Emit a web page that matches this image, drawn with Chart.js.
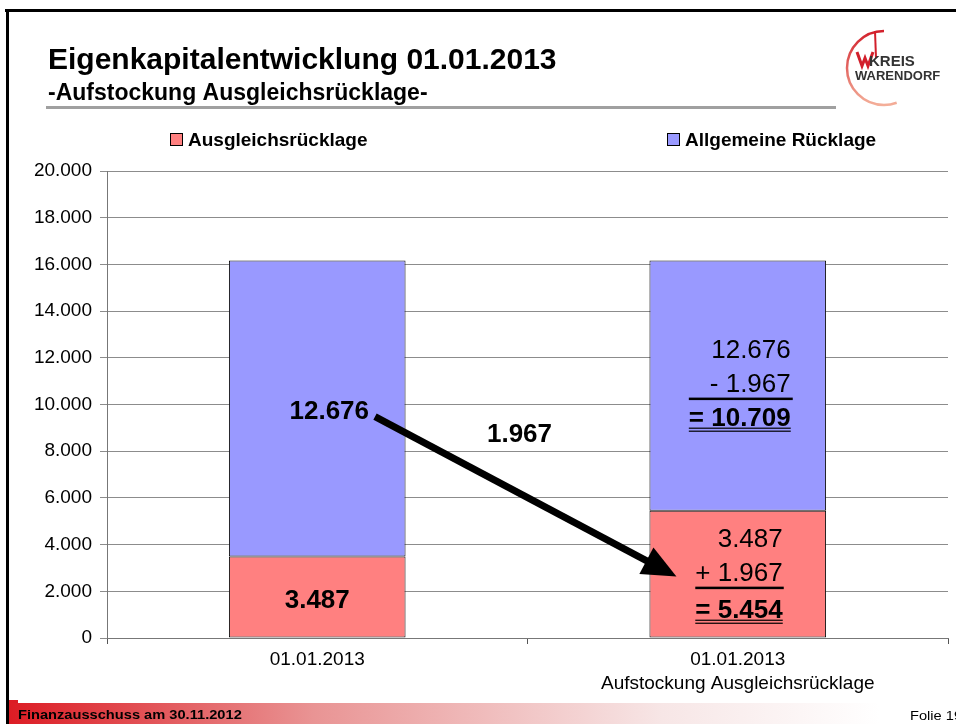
<!DOCTYPE html>
<html>
<head>
<meta charset="utf-8">
<script src="https://cdn.jsdelivr.net/npm/chart.js@4.4.1/dist/chart.umd.min.js"></script>
<style>
html, body { margin: 0; padding: 0; background: #fff; overflow: hidden; }
canvas { display: block; }
</style>
</head>
<body>
<canvas id="chart" width="956" height="724"></canvas>
<script>
var categories = [['01.01.2013'], ['01.01.2013', 'Aufstockung Ausgleichsrücklage']];
var seriesNames = ['Ausgleichsrücklage', 'Allgemeine Rücklage'];
var ausgleich = [3487, 5454];
var allgemein = [12676, 10709];
var umbuchung = 1967;
var yMax = 20000;
var yStep = 2000;

var FONT = "'Liberation Sans', Arial, sans-serif";
var RED = '#ff8080';
var BLUE = '#9999ff';

function fmt(v) {
    return String(v).replace(/\B(?=(\d{3})+(?!\d))/g, '.');
}

// text centred vertically on cy (cap height), alphabetic baseline
function label(ctx, text, x, cy, size, bold, align) {
    ctx.font = (bold ? 'bold ' : '') + size + 'px ' + FONT;
    ctx.textAlign = align || 'center';
    ctx.textBaseline = 'alphabetic';
    ctx.fillStyle = '#000';
    ctx.fillText(text, x, cy + size * 0.36);
    return ctx.measureText(text).width;
}

function stretched(ctx, text, x, y, font, sx, color) {
    ctx.save();
    ctx.font = font;
    ctx.fillStyle = color;
    ctx.textAlign = 'left';
    ctx.textBaseline = 'alphabetic';
    ctx.translate(x, y);
    ctx.scale(sx, 1);
    ctx.fillText(text, 0, 0);
    ctx.restore();
}

function hline(ctx, x1, x2, y, w) {
    ctx.fillStyle = '#000';
    ctx.fillRect(x1, y, x2 - x1, w);
}

var slide = {
    id: 'slide',
    afterDraw: function (chart) {
        var ctx = chart.ctx;
        ctx.save();

        // frame
        ctx.fillStyle = '#000';
        ctx.fillRect(5, 9, 951, 3);
        ctx.fillRect(6, 9, 3, 715);

        // header
        ctx.fillStyle = '#000';
        ctx.textAlign = 'left';
        ctx.textBaseline = 'alphabetic';
        ctx.font = 'bold 30px ' + FONT;
        ctx.fillText('Eigenkapitalentwicklung 01.01.2013', 48, 69);
        ctx.font = 'bold 23px ' + FONT;
        ctx.fillText('-Aufstockung Ausgleichsrücklage-', 48, 100);
        ctx.fillStyle = '#a0a0a0';
        ctx.fillRect(46, 106, 790, 3);

        // logo
        var g = ctx.createLinearGradient(0, 30, 0, 106);
        g.addColorStop(0, '#d21f2b');
        g.addColorStop(1, '#f4b09a');
        ctx.strokeStyle = g;
        ctx.lineWidth = 2.5;
        ctx.beginPath();
        ctx.arc(884, 68, 37, -Math.PI / 2, Math.PI / 2 - 0.35, true);
        ctx.stroke();
        ctx.strokeStyle = '#d21f2b';
        ctx.lineWidth = 2;
        ctx.beginPath();
        ctx.moveTo(875, 31);
        ctx.lineTo(876, 58);
        ctx.stroke();
        ctx.lineWidth = 3;
        ctx.beginPath();
        ctx.moveTo(857, 52);
        ctx.lineTo(862, 66);
        ctx.lineTo(865, 58);
        ctx.lineTo(868, 66);
        ctx.lineTo(873, 52);
        ctx.stroke();
        ctx.fillStyle = '#333';
        ctx.font = 'bold 15px ' + FONT;
        ctx.fillText('KREIS', 869, 66);
        ctx.font = 'bold 13px ' + FONT;
        ctx.fillText('WARENDORF', 855, 80);

        // legend
        var lx = [170, 667];
        chart.data.datasets.forEach(function (ds, i) {
            ctx.fillStyle = ds.backgroundColor;
            ctx.fillRect(lx[i], 133, 13, 13);
            ctx.strokeStyle = '#000';
            ctx.lineWidth = 1;
            ctx.strokeRect(lx[i] + 0.5, 133.5, 12, 12);
            ctx.fillStyle = '#000';
            ctx.font = 'bold 19px ' + FONT;
            ctx.fillText(ds.label, lx[i] + 18, 146);
        });

        // footer
        var fg = ctx.createLinearGradient(9, 0, 880, 0);
        fg.addColorStop(0, '#dc1c24');
        fg.addColorStop(0.35, '#e99494');
        fg.addColorStop(0.75, '#f7e6e6');
        fg.addColorStop(1, '#ffffff');
        ctx.fillStyle = fg;
        ctx.fillRect(9, 703, 947, 21);
        ctx.fillStyle = '#dc1c24';
        ctx.fillRect(9, 700, 9, 3);
        stretched(ctx, 'Finanzausschuss am 30.11.2012', 18, 719, 'bold 12px ' + FONT, 1.22, '#000');
        stretched(ctx, 'Folie 19', 910, 720, '12px ' + FONT, 1.22, '#000');

        ctx.restore();
    }
};

var annotations = {
    id: 'annotations',
    afterDatasetsDraw: function (chart) {
        var ctx = chart.ctx;
        var r = chart.getDatasetMeta(0).data;
        var b = chart.getDatasetMeta(1).data;
        ctx.save();

        // first column
        label(ctx, fmt(ausgleich[0]), r[0].x, (r[0].y + r[0].base) / 2 + 2, 26, true);
        var ly = (b[0].y + b[0].base) / 2 + 1;
        var lw = label(ctx, fmt(allgemein[0]), b[0].x + 12, ly, 26, true);

        // arrow
        var sx = b[0].x + 12 + lw / 2 + 6, sy = ly + 7;
        var tx = r[1].x - r[1].width / 2 + 27;
        var ty = r[1].base - (r[1].base - r[1].y) * 0.48;
        var dx = tx - sx, dy = ty - sy, len = Math.sqrt(dx * dx + dy * dy);
        var ux = dx / len, uy = dy / len;
        var hl = 34, hw = 15;
        var bx = tx - ux * hl, by = ty - uy * hl;
        ctx.strokeStyle = '#000';
        ctx.lineWidth = 7;
        ctx.beginPath();
        ctx.moveTo(sx, sy);
        ctx.lineTo(bx + ux * 2, by + uy * 2);
        ctx.stroke();
        ctx.fillStyle = '#000';
        ctx.beginPath();
        ctx.moveTo(tx, ty);
        ctx.lineTo(bx - uy * hw, by + ux * hw);
        ctx.lineTo(bx + uy * hw, by - ux * hw);
        ctx.closePath();
        ctx.fill();

        label(ctx, fmt(umbuchung), (b[0].x + b[1].x) / 2 - 8, sy + 16, 26, true);

        // second column, Allgemeine Rücklage
        var rx = b[1].x + 53, top = b[1].y;
        label(ctx, fmt(allgemein[0]), rx, top + 88, 26, false, 'right');
        label(ctx, '- ' + fmt(umbuchung), rx, top + 122, 26, false, 'right');
        var w = label(ctx, '= ' + fmt(allgemein[1]), rx, top + 156, 26, true, 'right');
        hline(ctx, rx - w, rx + 2, top + 137, 2.5);
        hline(ctx, rx - w, rx, top + 167, 1.2);
        hline(ctx, rx - w, rx, top + 170, 1.2);

        // second column, Ausgleichsrücklage
        rx = r[1].x + 45;
        top = r[1].y;
        label(ctx, fmt(ausgleich[0]), rx, top + 27, 26, false, 'right');
        label(ctx, '+ ' + fmt(umbuchung), rx, top + 61, 26, false, 'right');
        w = label(ctx, '= ' + fmt(ausgleich[1]), rx, top + 98, 26, true, 'right');
        hline(ctx, rx - w, rx + 1, top + 76, 2.5);
        hline(ctx, rx - w, rx, top + 109, 1.2);
        hline(ctx, rx - w, rx, top + 112, 1.2);

        ctx.restore();
    }
};

Chart.defaults.font.family = FONT;

new Chart(document.getElementById('chart'), {
    type: 'bar',
    data: {
        labels: categories,
        datasets: [{
            label: seriesNames[0],
            data: ausgleich,
            backgroundColor: RED,
            borderColor: '#111',
            borderWidth: 1,
            borderSkipped: false,
            barPercentage: 0.42,
            categoryPercentage: 1
        }, {
            label: seriesNames[1],
            data: allgemein,
            backgroundColor: BLUE,
            borderColor: '#111',
            borderWidth: 1,
            borderSkipped: false,
            barPercentage: 0.42,
            categoryPercentage: 1
        }]
    },
    options: {
        responsive: false,
        animation: false,
        layout: { padding: { top: 171, right: 8, bottom: 0, left: 0 } },
        plugins: { legend: { display: false }, tooltip: { enabled: false } },
        scales: {
            x: {
                stacked: true,
                ticks: { color: '#000', font: { size: 19, lineHeight: 1.3 }, padding: 3, maxRotation: 0, autoSkip: false },
                grid: { drawOnChartArea: false, color: '#555', tickLength: 6 },
                border: { color: '#777' },
                afterFit: function (s) { s.height = 86; }
            },
            y: {
                stacked: true,
                min: 0,
                max: yMax,
                ticks: { stepSize: yStep, color: '#000', font: { size: 19 }, padding: 8, callback: fmt },
                grid: { color: '#8c8c8c', tickLength: 7 },
                border: { color: '#777' },
                afterFit: function (s) { s.width = 107; }
            }
        }
    },
    plugins: [annotations, slide]
});
</script>
</body>
</html>
